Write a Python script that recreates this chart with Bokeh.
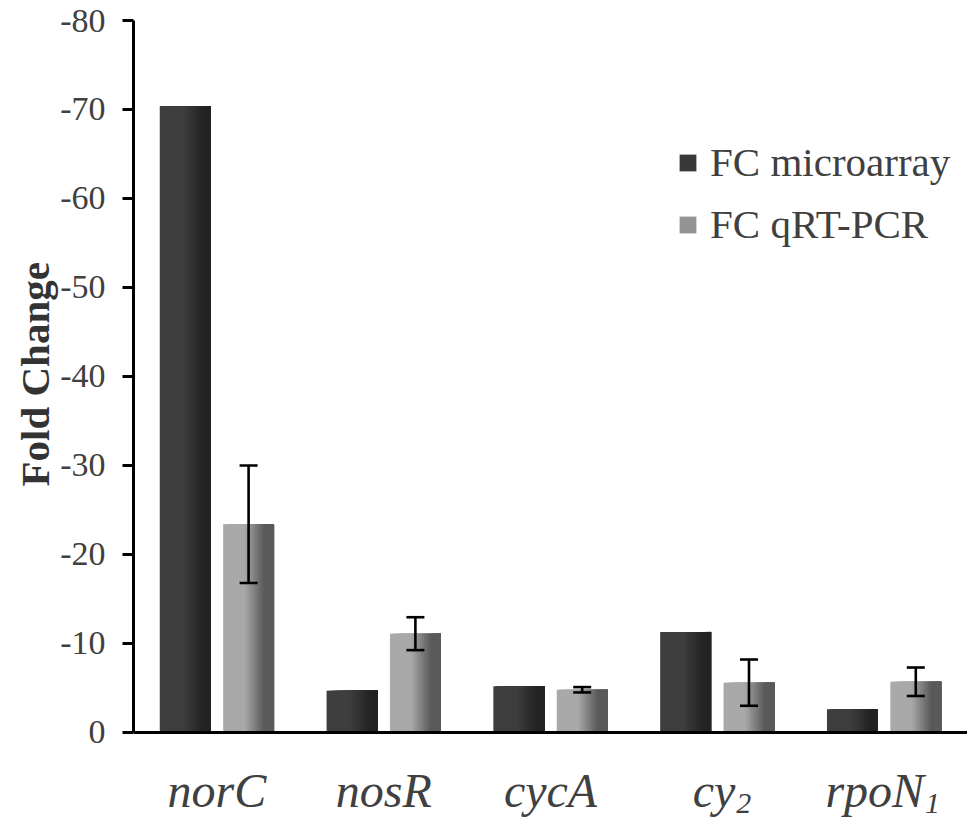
from bokeh.plotting import figure
from bokeh.models import (ColumnDataSource, Range1d, FixedTicker, Whisker, TeeHead,
                          Legend, LegendItem, Span, Title)
from bokeh.core.properties import value
from bokeh.embed import file_html
from bokeh.resources import INLINE

# ---- data ----
genes = ["norC", "nosR", "cycA", "cy", "rpoN"]
gene_subscripts = ["", "", "", "2", "1"]
fc_microarray = [-70.4, -4.7, -5.2, -11.3, -2.6]
fc_qrtpcr = [-23.4, -11.1, -4.8, -5.6, -5.7]
qrtpcr_err = [6.6, 1.85, 0.3, 2.6, 1.6]
series_names = ["FC microarray", "FC qRT-PCR"]
y_ticks = [0, -10, -20, -30, -40, -50, -60, -70, -80]
y_tick_labels = ["0", "-10", "-20", "-30", "-40", "-50", "-60", "-70", "-80"]
y_title = "Fold Change"

# ---- style ----
FONT = "Liberation Serif"
TXT = "#404040"
BAR_W = 0.305
OFFS = [-0.19, 0.19]
NSLICE = 24
Y_BOTTOM = 9.89       # frame extends below 0 to hold the category labels
LABEL_Y = 6.52
SUB_Y = 7.98


def hexc(v):
    v = max(0, min(255, int(round(v))))
    return "#%02x%02x%02x" % (v, v, v)


def profile(t, light, dark, t0, t1):
    if t <= t0:
        return light
    if t >= t1:
        return dark
    return light + (dark - light) * (t - t0) / (t1 - t0)


def gradient(light, dark, t0, t1):
    return [hexc(profile((k + 0.5) / NSLICE, light, dark, t0, t1)) for k in range(NSLICE)]


grads = [gradient(0x3e, 0x23, 0.45, 0.85), gradient(0xa9, 0x5a, 0.42, 0.80)]

p = figure(width=967, height=820, output_backend="svg", toolbar_location=None,
           x_range=Range1d(-0.5, len(genes) - 0.5), y_range=Range1d(Y_BOTTOM, -80),
           min_border_left=133, min_border_right=0, min_border_top=20, min_border_bottom=0)
p.outline_line_color = None
p.grid.visible = False
p.background_fill_color = "white"

renderers = []
for s, vals in enumerate([fc_microarray, fc_qrtpcr]):
    xs, ws, tops, cols = [], [], [], []
    for i, v in enumerate(vals):
        left = i + OFFS[s] - BAR_W / 2
        right = left + BAR_W
        for k in range(NSLICE):
            lk = left + k * BAR_W / NSLICE
            xs.append((lk + right) / 2)
            ws.append(right - lk)
            tops.append(v)
            cols.append(grads[s][k])
    src = ColumnDataSource(dict(x=xs, w=ws, top=tops, color=cols))
    r = p.vbar(x="x", top="top", bottom=0, width="w", source=src,
               fill_color="color", line_color=None)
    renderers.append(r)

# error bars
ex = [i + OFFS[1] for i in range(len(genes))]
src_e = ColumnDataSource(dict(base=ex,
                              upper=[v - e for v, e in zip(fc_qrtpcr, qrtpcr_err)],
                              lower=[v + e for v, e in zip(fc_qrtpcr, qrtpcr_err)]))
wh = Whisker(base="base", upper="upper", lower="lower", source=src_e, level="overlay",
             line_color="black", line_width=2.6,
             upper_head=TeeHead(size=18, line_color="black", line_width=2.6),
             lower_head=TeeHead(size=18, line_color="black", line_width=2.6))
p.add_layout(wh)

# x axis line at zero
p.add_layout(Span(location=0, dimension="width", line_color="black", line_width=3))
p.xaxis.visible = False

# y axis
p.yaxis.bounds = (-80, 0)
p.yaxis.ticker = FixedTicker(ticks=y_ticks)
p.yaxis.major_label_overrides = {t: l for t, l in zip(y_ticks, y_tick_labels)}
p.yaxis.major_label_text_font = FONT
p.yaxis.major_label_text_font_size = "34px"
p.yaxis.major_label_text_color = TXT
p.yaxis.major_label_standoff = 17
p.yaxis.axis_line_width = 3
p.yaxis.axis_line_color = "black"
p.yaxis.major_tick_line_width = 3
p.yaxis.major_tick_line_color = "black"
p.yaxis.major_tick_out = 11
p.yaxis.major_tick_in = 0
p.yaxis.minor_tick_line_color = None

# y title, centred on the -80..0 part of the axis
p.add_layout(Title(text=y_title, align="left", offset=334, standoff=0,
                   text_font=FONT, text_font_style="bold", text_font_size="41px",
                   text_color="#333333"), "left")

# category labels (italic, with subscripts)
sub_shift = {3: 18, 4: 40}
plain = [i for i, s in enumerate(gene_subscripts) if not s]
subbed = [i for i, s in enumerate(gene_subscripts) if s]
p.text(x=plain, y=[LABEL_Y] * len(plain), text=[genes[i] for i in plain],
       text_font=value(FONT), text_font_style="italic", text_font_size="48px",
       text_color=TXT, text_align="center", text_baseline="alphabetic")
p.text(x=subbed, y=[LABEL_Y] * len(subbed), text=[genes[i] for i in subbed],
       x_offset=[sub_shift[i] for i in subbed],
       text_font=value(FONT), text_font_style="italic", text_font_size="48px",
       text_color=TXT, text_align="right", text_baseline="alphabetic")
p.text(x=subbed, y=[SUB_Y] * len(subbed), text=[gene_subscripts[i] for i in subbed],
       x_offset=[sub_shift[i] + 1 for i in subbed],
       text_font=value(FONT), text_font_style="italic", text_font_size="30px",
       text_color=TXT, text_align="left", text_baseline="alphabetic")

# legend
legend = Legend(items=[LegendItem(label=series_names[0], renderers=[renderers[0]], index=NSLICE // 2),
                       LegendItem(label=series_names[1], renderers=[renderers[1]], index=NSLICE // 2)],
                location=(544, 572), orientation="vertical",
                label_text_font=FONT, label_text_font_size="41px", label_text_color=TXT,
                glyph_width=21, glyph_height=21, label_standoff=12, spacing=14,
                padding=0, margin=0, border_line_color=None, background_fill_alpha=0)
p.add_layout(legend)

open("out.html", "w").write(file_html(p, INLINE))
